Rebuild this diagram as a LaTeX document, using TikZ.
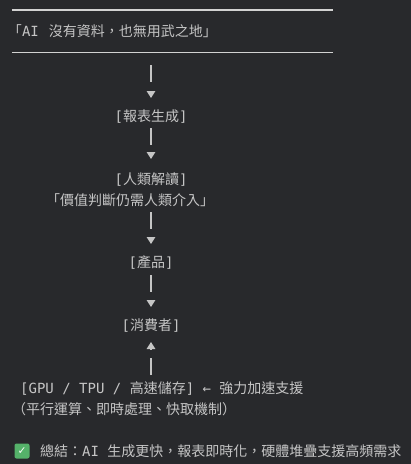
\documentclass[tikz,border=0pt]{standalone}
\usepackage{fontspec}
\setmainfont{Noto Sans CJK TC}
\newfontfamily\monof{DejaVu Sans Mono}
\newcommand\mtxt[1]{{\monof #1}}
\usetikzlibrary{arrows.meta}
\definecolor{bgc}{HTML}{28292C}
\definecolor{fgc}{HTML}{C5C5C5}
\definecolor{rulec}{HTML}{D2D2D2}
\definecolor{okgreen}{HTML}{55B26A}
\begin{document}
\begin{tikzpicture}[x=1pt,y=-1pt,
  txt/.style={inner sep=0pt, text height=12pt, text depth=2pt, text=fgc,
    font=\fontsize{14}{17}\selectfont},
  rulestyle/.style={draw=rulec, line width=1.4pt},
  conn/.style={draw=fgc, line width=1.4pt, dash pattern=on 17pt off 9pt,
    -{Triangle[width=8.5pt,length=7pt]}}
]
\fill[bgc] (0,0) rectangle (411,464);
\useasboundingbox (0,0) rectangle (411,464);

% banner
\node[txt, minimum width=321pt, minimum height=42pt, text width=321pt, align=left]
  (banner) at (172.5,31) {\hspace*{-4pt}「\mtxt{AI}\hspace{10pt}沒有資料，也無用武之地」};
\draw[rulestyle] (banner.north west) -- (banner.north east);
\draw[rulestyle] (banner.south west) -- (banner.south east);

% column
\node[txt] (report)   at (151,116) {\mtxt{[}報表生成\mtxt{]}};
\node[txt] (human)    at (151,179) {\mtxt{[}人類解讀\mtxt{]}};
\node[txt, anchor=west] (value) at (46,200) {「價值判斷仍需人類介入」};
\node[txt] (product)  at (151,262) {\mtxt{[}產品\mtxt{]}};
\node[txt] (consumer) at (151,325) {\mtxt{[}消費者\mtxt{]}};
\node[txt, anchor=west] (gpu) at (20,388) {\mtxt{[GPU / TPU / }高速儲存\mtxt{] ← }強力加速支援};
\node[txt, anchor=west] (parallel) at (12,409) {（平行運算、即時處理、快取機制）};

% summary
\node[fill=okgreen, rounded corners=2pt, minimum size=15pt, inner sep=0pt,
  text=white, font=\monof\fontsize{12}{12}\selectfont] (check) at (22,451) {✓};
\node[txt, anchor=west] (summary) at (40,451) {總結：\mtxt{AI }生成更快，報表即時化，硬體堆疊支援高頻需求};

% connectors
\draw[conn, shorten <=13pt, shorten >=18pt] (banner.south -| report.center) -- (report.center);
\draw[conn, shorten <=12pt, shorten >=20pt] (report.center) -- (human.center);
\draw[conn, shorten <=12pt, shorten >=18pt] (value.center -| product.center) -- (product.center);
\draw[conn, shorten <=13pt, shorten >=18pt] (product.center) -- (consumer.center);
\draw[conn, shorten <=13pt, shorten >=17pt] (gpu.center -| consumer.center) -- (consumer.center);
\end{tikzpicture}
\end{document}
